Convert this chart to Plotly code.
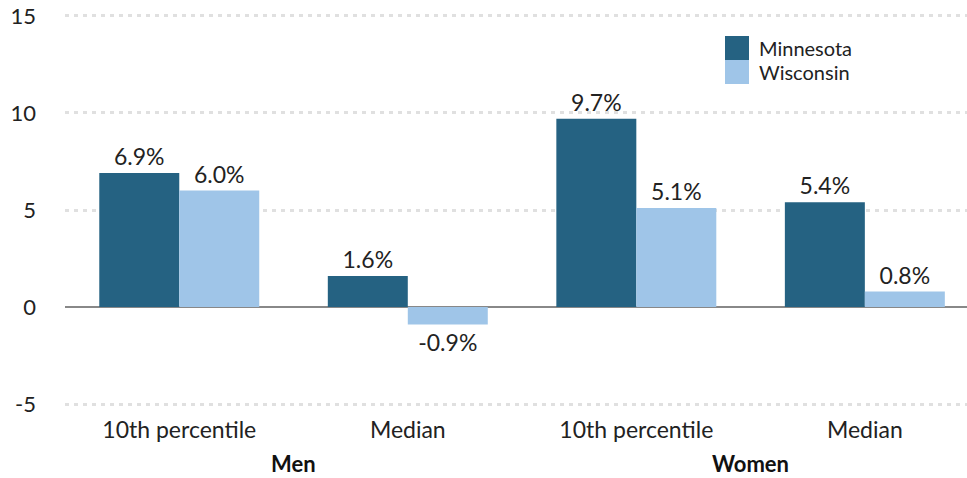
import plotly.graph_objects as go

groups = ["Men", "Men", "Women", "Women"]
measures = ["10th percentile", "Median", "10th percentile", "Median"]
minnesota = [6.9, 1.6, 9.7, 5.4]
wisconsin = [6.0, -0.9, 5.1, 0.8]
series_names = ["Minnesota", "Wisconsin"]
colors = ["#256282", "#9fc5e8"]
y_ticks = [-5, 0, 5, 10, 15]
y_tick_text = ["-5", "0", "5", "10", "15"]

FONT = "Lato, 'Open Sans', sans-serif"
cats = ["%s|%s" % (g, m) for g, m in zip(groups, measures)]

fig = go.Figure()
for name, vals, col in zip(series_names, [minnesota, wisconsin], colors):
    fig.add_trace(go.Bar(
        x=cats, y=vals, name=name, marker_color=col, marker_line_width=0,
        text=["%.1f%%" % v for v in vals], textposition="outside",
        textfont=dict(size=23, color="#222"), cliponaxis=False,
        showlegend=False,
    ))

Y0, Y1 = -5.2, 15.2
T, B = 12, 70
H = 478 - T - B
fig.update_layout(
    width=967, height=478,
    margin=dict(l=65, r=0, t=T, b=B),
    plot_bgcolor="white", paper_bgcolor="white",
    barmode="group", bargap=0.3, bargroupgap=0,
    font=dict(family=FONT, size=22, color="#222"),
    xaxis=dict(type="category", showgrid=False, tickvals=cats, ticktext=measures,
               range=[-0.5, 3.447], tickfont=dict(size=23, color="#222"),
               ticklabelstandoff=6),
    yaxis=dict(range=[Y0, Y1], tickvals=y_ticks, ticktext=y_tick_text, showgrid=True,
               gridcolor="#e0e0e0", griddash="4px,5px", gridwidth=3,
               zeroline=True, zerolinecolor="#888888", zerolinewidth=2,
               ticklabelstandoff=28, tickfont=dict(size=22, color="#222")),
)

# Group labels below the category ticks
for g in ["Men", "Women"]:
    idx = [i for i, gg in enumerate(groups) if gg == g]
    fig.add_annotation(xref="x", yref="paper", x=sum(idx) / len(idx),
                       y=-(463 - (478 - B)) / H, text="<b>%s</b>" % g,
                       showarrow=False, xanchor="center", yanchor="middle",
                       borderpad=0, font=dict(size=22, color="#111"))

# Custom legend
leg_x0, leg_y0 = 725, 36
for i, (name, col) in enumerate(zip(series_names, colors)):
    y0 = leg_y0 + i * 24
    fig.add_shape(type="rect", xref="paper", yref="paper",
                  x0=(leg_x0 - 65) / 902, x1=(leg_x0 + 24 - 65) / 902,
                  y0=1 - (y0 + 24 - T) / H, y1=1 - (y0 - T) / H,
                  fillcolor=col, line_width=0)
    fig.add_annotation(xref="paper", yref="paper",
                       x=(leg_x0 + 33 - 65) / 902, y=1 - (y0 + 12 - T) / H,
                       text=name, showarrow=False, xanchor="left", yanchor="middle",
                       borderpad=0, font=dict(size=20, color="#222"))

fig.write_html("out.html")
